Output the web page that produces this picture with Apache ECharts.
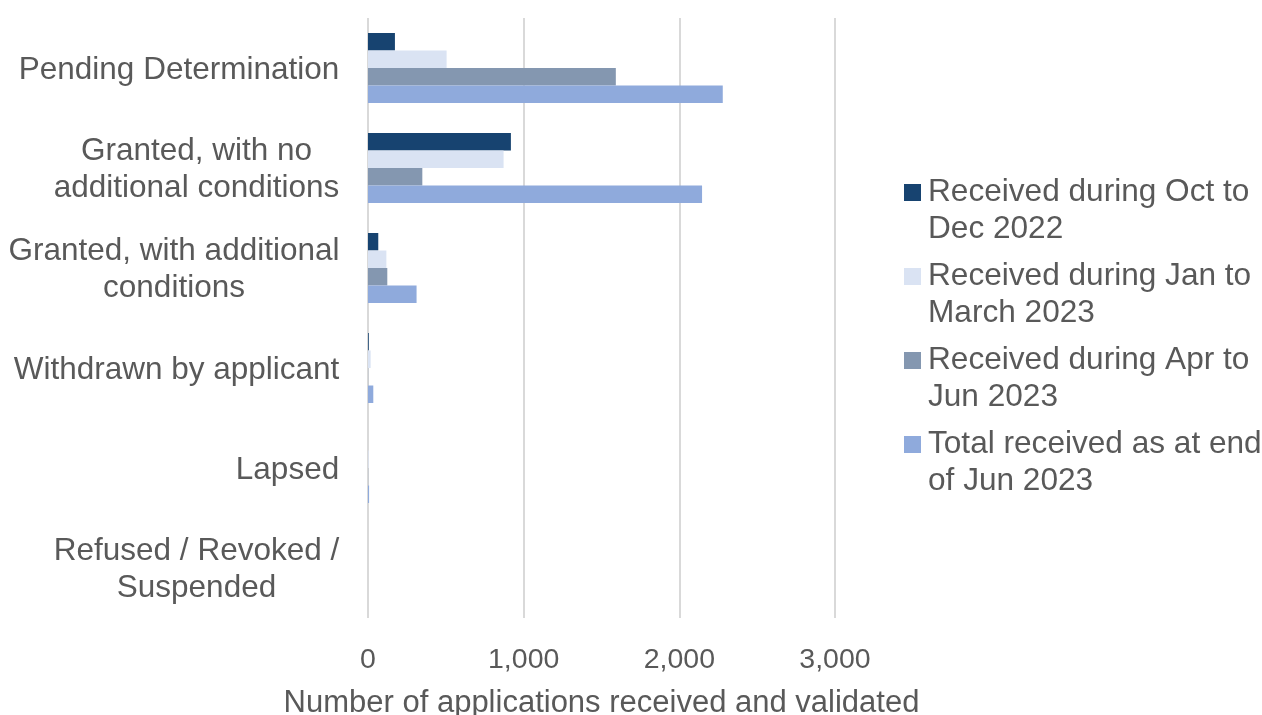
<!DOCTYPE html>
<html>
<head>
<meta charset="utf-8">
<script src="https://cdn.jsdelivr.net/npm/echarts@6/dist/echarts.min.js"></script>
<style>
  html, body { margin: 0; padding: 0; background: #ffffff; }
  #chart { width: 1262px; height: 715px; }
</style>
</head>
<body>
<div id="chart"></div>
<script>
// Application outcomes by status (category axis, top to bottom)
const categories = [
  'Pending Determination',
  'Granted, with no\nadditional conditions',
  'Granted, with additional\nconditions',
  'Withdrawn by applicant',
  'Lapsed',
  'Refused / Revoked /\nSuspended'
];

// Series names and their wrapped legend text
const seriesNames = [
  'Received during Oct to Dec 2022',
  'Received during Jan to March 2023',
  'Received during Apr to Jun 2023',
  'Total received as at end of Jun 2023'
];
const legendLabels = [
  'Received during Oct to\nDec 2022',
  'Received during Jan to\nMarch 2023',
  'Received during Apr to\nJun 2023',
  'Total received as at end\nof Jun 2023'
];

// Number of applications for each status
const octDec2022 = [173, 918, 66, 5, 0, 0];
const janMar2023 = [505, 871, 118, 17, 4, 0];
const aprJun2023 = [1592, 349, 124, 1, 1, 0];
const totalJun2023 = [2279, 2146, 312, 34, 7, 0];

// Value axis ticks
const xTicks = [0, 1000, 2000, 3000];

const seriesColors = ['#174370', '#DAE3F3', '#8497B0', '#8FAADC'];
const FONT = "'Liberation Sans', Arial, sans-serif";
const TEXT = '#595959';
const LABEL_SIZE = 31.5;
const LINE_H = 37;

// Measure each category label so its lines can be centred within its own block
const measureCtx = document.createElement('canvas').getContext('2d');
measureCtx.font = LABEL_SIZE + 'px ' + FONT;
const labelRich = {};
categories.forEach(function (c, i) {
  const w = Math.max.apply(null, c.split('\n').map(function (s) {
    return measureCtx.measureText(s).width;
  }));
  labelRich['c' + i] = {
    width: Math.ceil(w) + 1,
    align: 'center',
    fontSize: LABEL_SIZE,
    lineHeight: LINE_H,
    fontFamily: FONT,
    color: TEXT
  };
});

const chart = echarts.init(document.getElementById('chart'), null, { renderer: 'canvas' });

const valueSets = [octDec2022, janMar2023, aprJun2023, totalJun2023];

chart.setOption({
  animation: false,
  backgroundColor: '#ffffff',
  textStyle: { fontFamily: FONT, color: TEXT },
  grid: {
    left: 368, right: 427, top: 18, bottom: 97,
    containLabel: false,
    outerBoundsMode: 'none'
  },
  legend: {
    orient: 'vertical',
    left: 904,
    top: 137,
    padding: 0,
    itemGap: -27,
    itemWidth: 17,
    itemHeight: 17,
    icon: 'rect',
    data: seriesNames,
    // a blank leading line keeps the marker level with the first text line
    formatter: function (name) {
      return '\u00a0\n' + legendLabels[seriesNames.indexOf(name)];
    },
    textStyle: {
      fontFamily: FONT,
      fontSize: 31.6,
      lineHeight: LINE_H,
      color: TEXT,
      padding: [0, 0, 0, 2]
    }
  },
  xAxis: {
    type: 'value',
    min: xTicks[0],
    max: xTicks[xTicks.length - 1],
    interval: xTicks[1] - xTicks[0],
    name: 'Number of applications received and validated',
    nameLocation: 'middle',
    nameGap: 70,
    nameTextStyle: { fontFamily: FONT, fontSize: 31, color: TEXT },
    axisLine: { show: false },
    axisTick: { show: false },
    axisLabel: {
      margin: 28,
      fontFamily: FONT,
      fontSize: 28.5,
      color: TEXT,
      formatter: function (v) { return echarts.format.addCommas(v); }
    },
    splitLine: { show: true, lineStyle: { color: '#d9d9d9', width: 2 } }
  },
  yAxis: {
    type: 'category',
    inverse: true,
    data: categories,
    axisLine: { show: false },
    axisTick: { show: false },
    axisLabel: {
      margin: 28,
      align: 'right',
      interval: 0,
      padding: [4, 0, 0, 0],
      rich: labelRich,
      formatter: function (value, index) {
        return value.split('\n').map(function (s) {
          return '{c' + index + '|' + s + '}';
        }).join('\n');
      }
    }
  },
  series: seriesNames.map(function (name, i) {
    return {
      name: name,
      type: 'bar',
      data: valueSets[i],
      barGap: '0%',
      barCategoryGap: '30%',
      itemStyle: { color: seriesColors[i] }
    };
  })
});
</script>
</body>
</html>
